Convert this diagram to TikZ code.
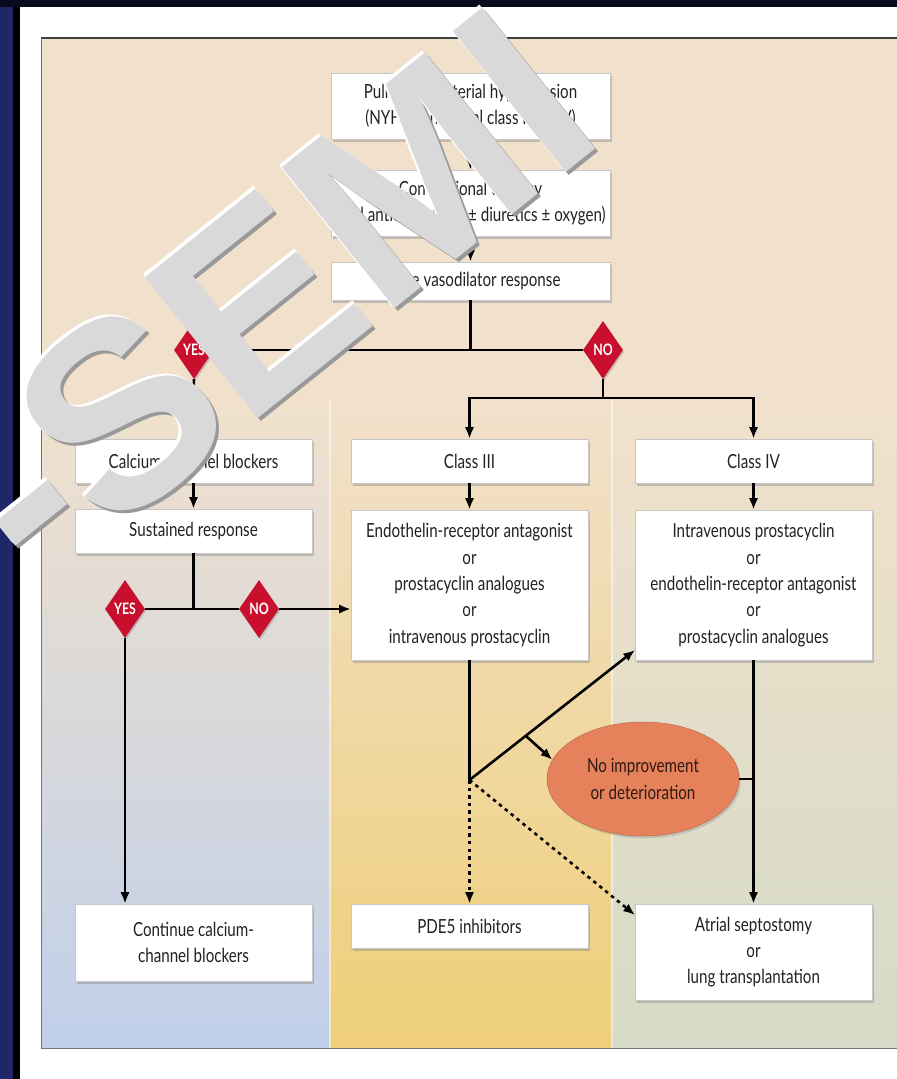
\documentclass[tikz,border=0pt]{standalone}
\usepackage{fontspec}
\setmainfont{Lato}[FakeStretch=0.78]
\newfontfamily\markfont{Liberation Sans}
\usetikzlibrary{shapes.geometric,shadows,arrows.meta,calc}

\definecolor{navyedge}{HTML}{1E2868}
\definecolor{topband}{HTML}{0A0A1E}
\definecolor{panelbeige}{HTML}{F1E1CC}
\definecolor{leftblue}{HTML}{C0D0EA}
\definecolor{midyellow}{HTML}{EFCF78}
\definecolor{rightsage}{HTML}{D5DBC6}
\definecolor{decisionred}{HTML}{C8102E}
\definecolor{worsefill}{HTML}{E6825B}
\definecolor{boxtext}{HTML}{222222}
\definecolor{markgrey}{HTML}{D9D9D9}

\begin{document}
\begin{tikzpicture}[x=0.03cm,y=-0.03cm,
  box/.style={draw=black!22, fill=white, text=boxtext, align=center, inner sep=2pt,
    minimum width=7.11cm, minimum height=1.32cm, font=\fontsize{16.6}{22.5}\selectfont,
    drop shadow={shadow xshift=1.5pt, shadow yshift=-2.5pt, opacity=0.4}},
  widebox/.style={box, minimum width=8.37cm},
  decide/.style={diamond, fill=decisionred, text=white, inner sep=0pt,
    minimum width=1.2cm, minimum height=1.74cm, font=\bfseries\fontsize{13.5}{14}\selectfont,
    drop shadow={shadow xshift=1pt, shadow yshift=-1.5pt, opacity=0.4}},
  wire/.style={line width=2.2pt},
  link/.style={wire, -{Latex[length=10pt,width=8pt]}},
  maybe/.style={link, dash pattern=on 3pt off 3.5pt},
  wmark/.style={font=\markfont\bfseries\fontsize{224}{224}\selectfont, rotate=38.7, inner sep=0pt}
]
\useasboundingbox (0,0) rectangle (897,1079);
\clip (0,0) rectangle (897,1079);

% frame and panel
\fill[navyedge] (0,0) rectangle (13,1079);
\fill[topband] (0,0) rectangle (897,7);
\fill[black] (13,7) rectangle (20,1079);
\fill[white] (20,7) rectangle (897,1079);
\fill[panelbeige] (41,38) rectangle (897,1048);
\shade[top color=panelbeige, bottom color=leftblue] (41,400) rectangle (330,1048);
\shade[top color=panelbeige, bottom color=midyellow] (330,400) rectangle (612,1048);
\shade[top color=panelbeige, bottom color=rightsage] (612,400) rectangle (897,1048);
\draw[white, opacity=0.5, line width=1pt] (330,400) -- (330,1048) (612,400) -- (612,1048);
\draw[black!75, line width=1.5pt] (41,38) -- (897,38);
\draw[black!55, line width=0.8pt] (41,38) -- (41,1048) -- (897,1048);

\node[widebox, minimum height=1.98cm] (pah) at (470.5,106) {Pulmonary arterial hypertension\\(NYHA functional class III or IV)};
\node[widebox, minimum height=1.98cm] (conv) at (470.5,203) {Conventional therapy\\(oral anticoagulants ± diuretics ± oxygen)};
\node[widebox, minimum height=1.14cm] (acute) at (470.5,281) {Acute vasodilator response};

\node[decide] (yes1) at (194,350) {YES};
\node[decide] (no1) at (603,350) {NO};

\node[box] (ccb) at (193.5,461) {Calcium-channel blockers};
\node[box] (sust) at (193.5,531) {Sustained response};
\node[box] (c3) at (469.5,461) {Class III};
\node[box] (c4) at (753.5,461) {Class IV};
\node[box, minimum height=4.5cm] (t3) at (469.5,585) {Endothelin-receptor antagonist\\or\\prostacyclin analogues\\or\\intravenous prostacyclin};
\node[box, minimum height=4.5cm] (t4) at (753.5,585) {Intravenous prostacyclin\\or\\endothelin-receptor antagonist\\or\\prostacyclin analogues};

\node[decide] (yes2) at (125,609) {YES};
\node[decide] (no2) at (259,609) {NO};

\node[ellipse, fill=worsefill, draw=worsefill!80!black, text=black!80!worsefill, align=center,
  minimum width=5.76cm, minimum height=3.42cm, font=\fontsize{16.6}{22.5}\selectfont,
  drop shadow={shadow xshift=1.5pt, shadow yshift=-2pt, opacity=0.3}] (worse) at (643,779) {No improvement\\or deterioration};

\node[box, minimum height=2.31cm] (cont) at (193.5,942.5) {Continue calcium-\\channel blockers};
\node[box] (pde) at (469.5,926) {PDE5 inhibitors};
\node[box, minimum height=2.88cm] (sept) at (753.5,952) {Atrial septostomy\\or\\lung transplantation};

\coordinate (split) at (603,398);
\coordinate (pivot) at (469.5,780);
\coordinate (upin) at (635,650);
\coordinate (sidein) at (635,915);
\coordinate (fork) at ($(pivot)!0.34!(upin)$);

\draw[link] (pah) -- (conv);
\draw[link] (conv) -- (acute);
\draw[wire] (acute) -- (acute |- yes1);
\draw[wire] (yes1) -- (no1);
\draw[link] (yes1) -- (ccb);
\draw[wire] (no1) -- (split);
\draw[link] (split) -| (c3);
\draw[link] (split) -| (c4);
\draw[link] (ccb) -- (sust);
\draw[link] (c3) -- (t3);
\draw[link] (c4) -- (t4);
\draw[wire] (sust) -- (sust |- yes2);
\draw[wire] (yes2) -- (no2);
\draw[link] (no2) -- (no2 -| t3.west);
\draw[link] (yes2) -- (yes2 |- cont.north);
\draw[wire] (t3) -- (pivot);
\draw[link] (pivot) -- (upin);
\draw[link] (fork) -- (worse.168);
\draw[link] (t4) -- (sept);
\draw[wire] (worse) -- (worse -| t4);
\draw[maybe] (pivot) -- (pde);
\draw[maybe] (pivot) -- (sidein);

% watermark
\node[wmark, text=black!40] (markshade) at (271,298) {-SEMI};
\node[wmark, text=white] (marklight) at (265.5,292.5) {-SEMI};
\node[wmark, text=markgrey] (mark) at (268,295) {-SEMI};
\end{tikzpicture}
\end{document}
